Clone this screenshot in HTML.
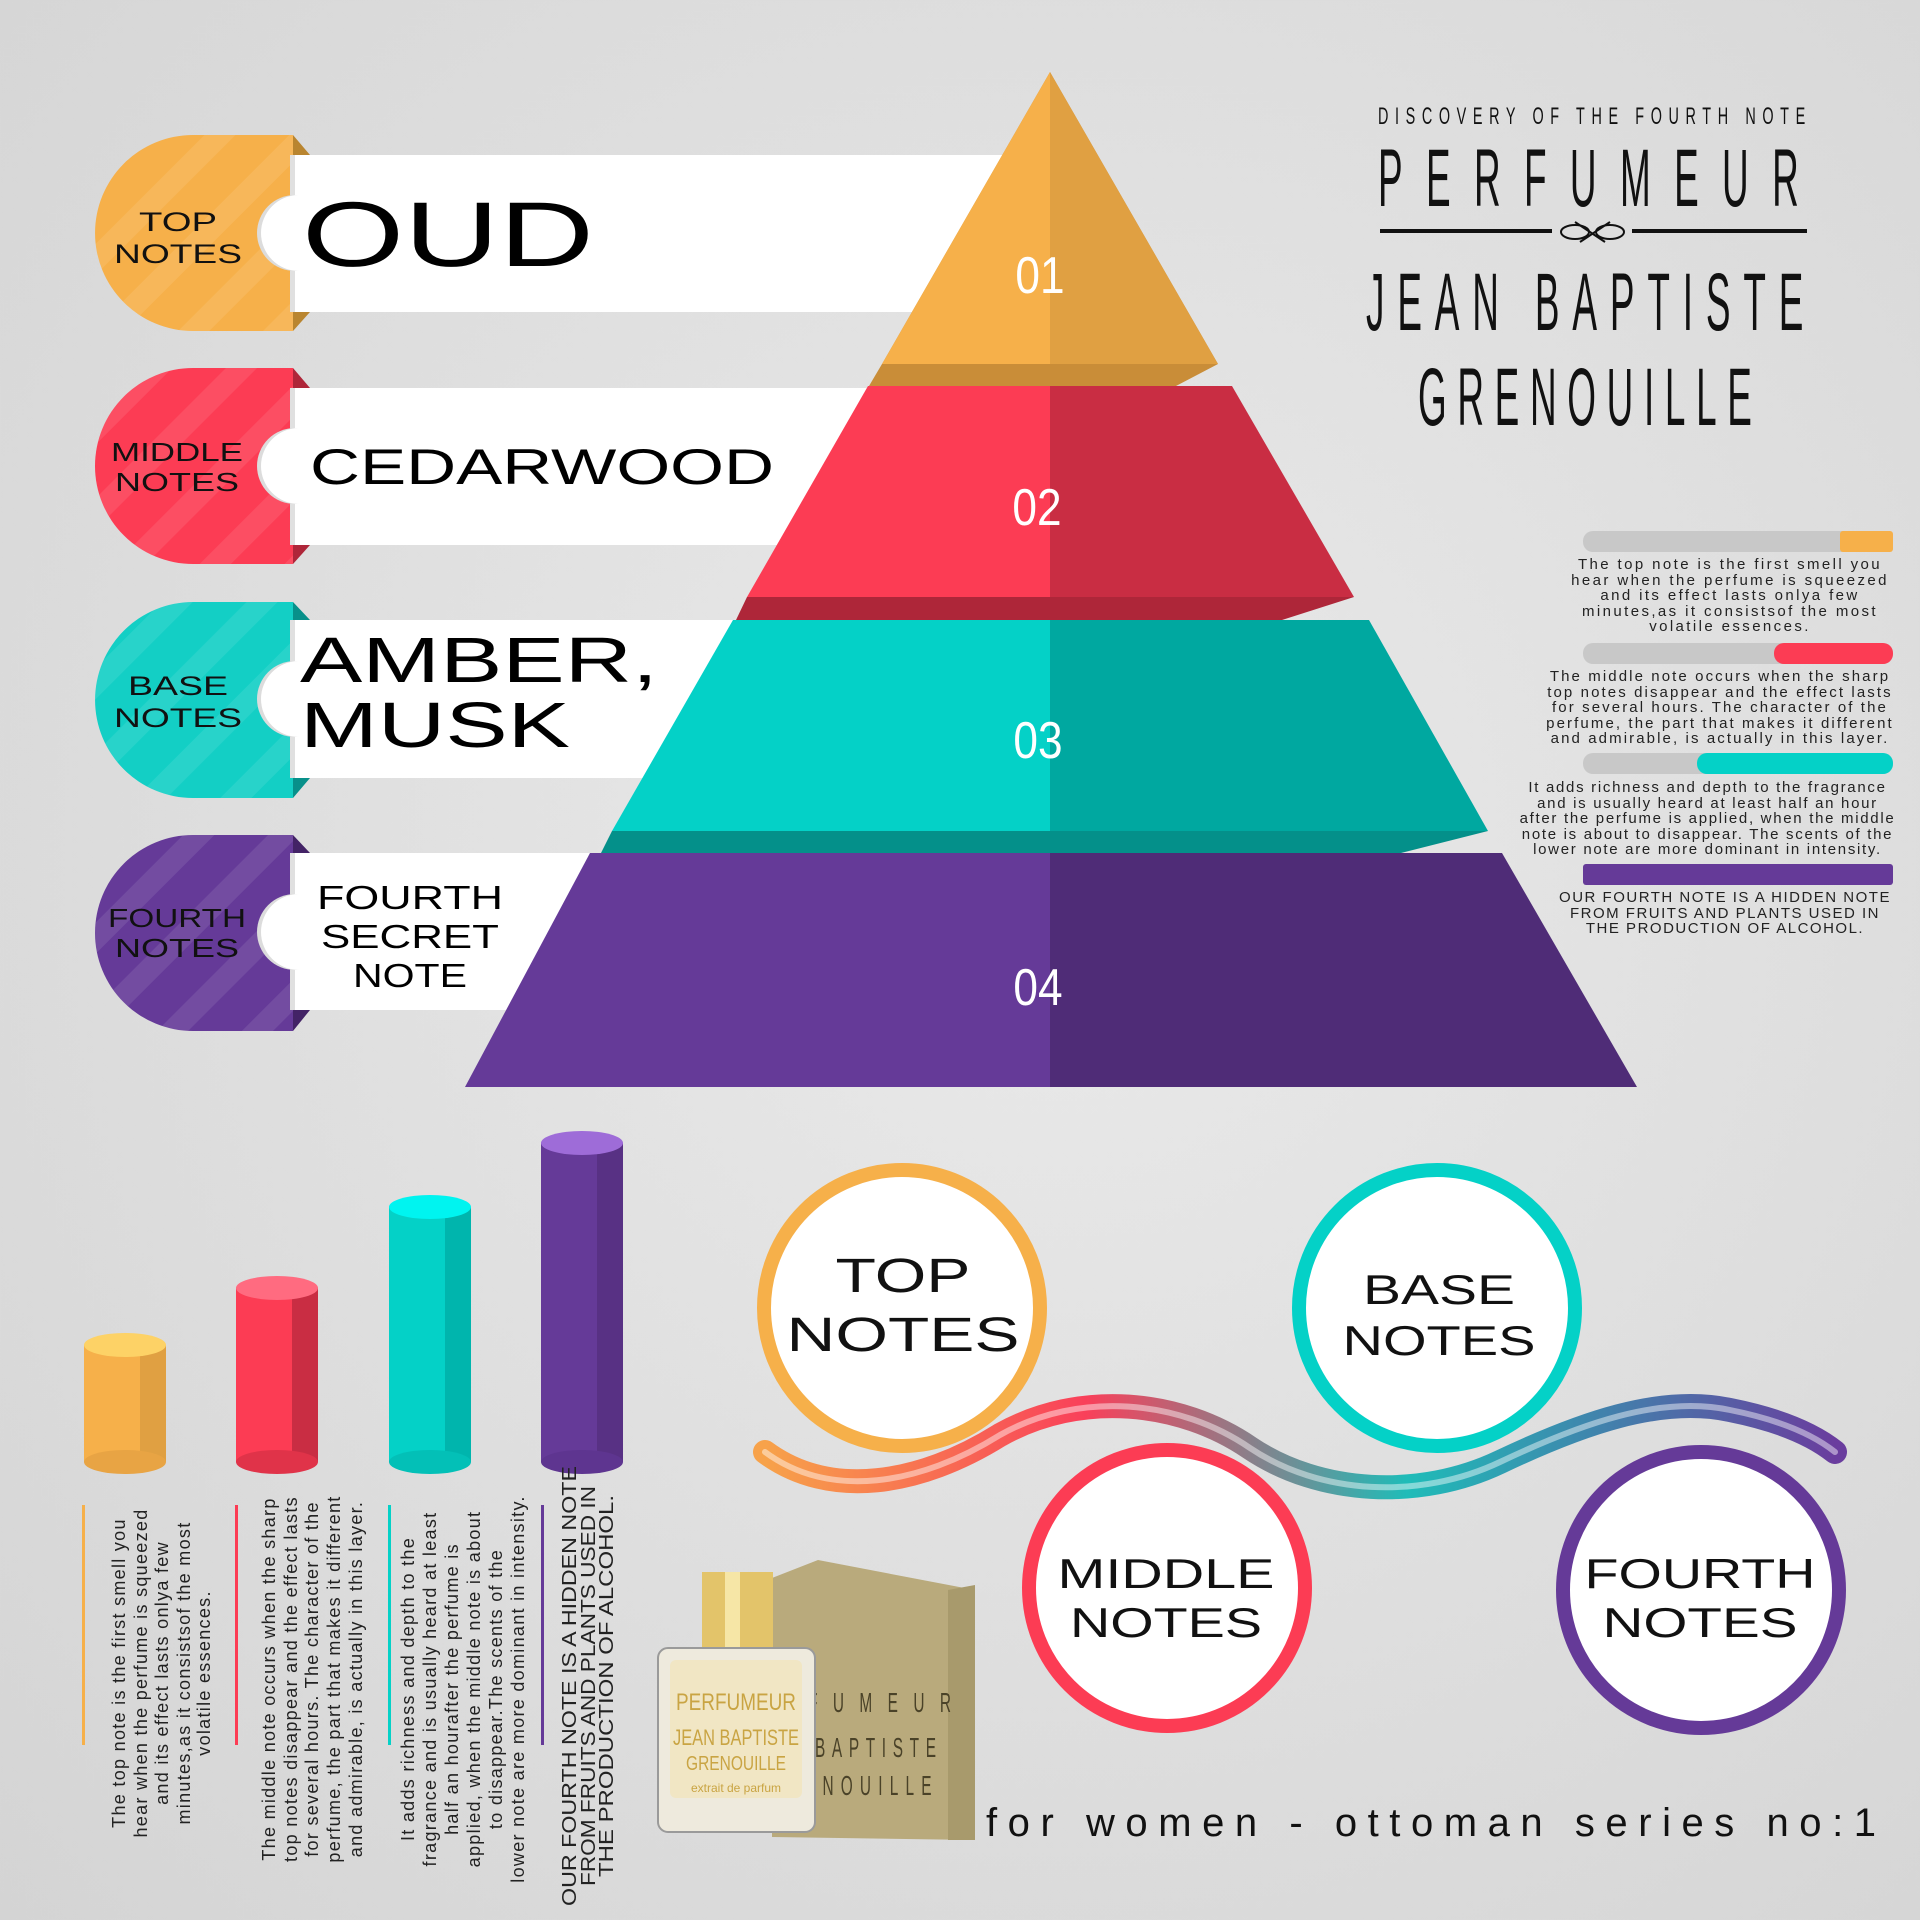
<!DOCTYPE html>
<html><head><meta charset="utf-8"><style>
html,body{margin:0;padding:0}
body{width:1920px;height:1920px;position:relative;overflow:hidden;background:radial-gradient(ellipse at 55% 45%,#eaeaea 0%,#dedede 55%,#d4d4d4 100%);font-family:"Liberation Sans",sans-serif}
.a{position:absolute}
.desc{position:absolute;text-align:center;color:#222;font-size:15px;line-height:15.5px;letter-spacing:2.4px;white-space:nowrap}
</style></head><body>
<svg class="a" style="left:0;top:0" width="1920" height="1920" viewBox="0 0 1920 1920">
<defs>
<linearGradient id="wg" x1="765" y1="0" x2="1835" y2="0" gradientUnits="userSpaceOnUse">
<stop offset="0" stop-color="#f7a24a"/><stop offset="0.3" stop-color="#f9405a"/><stop offset="0.6" stop-color="#1fbcb8"/><stop offset="1" stop-color="#6a3d9e"/></linearGradient>
<pattern id="st" width="60" height="60" patternUnits="userSpaceOnUse" patternTransform="rotate(-45)"><rect width="60" height="22" fill="#fff" fill-opacity="0.09"/></pattern>
</defs>
<rect x="290" y="155" width="760" height="157" fill="#fff"/>
<rect x="290" y="388" width="700" height="157" fill="#fff"/>
<rect x="290" y="620" width="600" height="158" fill="#fff"/>
<rect x="290" y="853" width="500" height="157" fill="#fff"/>
<g>
<path d="M293,135 L193,135 A98,98 0 0 0 193,331 L293,331Z" fill="#f6b04a"/><path d="M293,135 L193,135 A98,98 0 0 0 193,331 L293,331Z" fill="url(#st)"/>
<polygon points="293,135 310,155 293,155" fill="#b98530"/><polygon points="293,331 310,312 293,312" fill="#b98530"/>
<path d="M293,368 L193,368 A98,98 0 0 0 193,564 L293,564Z" fill="#fc3c54"/><path d="M293,368 L193,368 A98,98 0 0 0 193,564 L293,564Z" fill="url(#st)"/>
<polygon points="293,368 310,388 293,388" fill="#ae2639"/><polygon points="293,564 310,545 293,545" fill="#ae2639"/>
<path d="M293,602 L193,602 A98,98 0 0 0 193,798 L293,798Z" fill="#13cfc5"/><path d="M293,602 L193,602 A98,98 0 0 0 193,798 L293,798Z" fill="url(#st)"/>
<polygon points="293,602 310,620 293,620" fill="#08908a"/><polygon points="293,798 310,778 293,778" fill="#08908a"/>
<path d="M293,835 L193,835 A98,98 0 0 0 193,1031 L293,1031Z" fill="#653a98"/><path d="M293,835 L193,835 A98,98 0 0 0 193,1031 L293,1031Z" fill="url(#st)"/>
<polygon points="293,835 310,853 293,853" fill="#432366"/><polygon points="293,1031 310,1010 293,1010" fill="#432366"/>
<rect x="290" y="155" width="5" height="157" fill="#e0e0e0"/><rect x="290" y="388" width="5" height="157" fill="#e0e0e0"/><rect x="290" y="620" width="5" height="158" fill="#e0e0e0"/><rect x="290" y="853" width="5" height="157" fill="#e0e0e0"/>
<circle cx="295" cy="233" r="38" fill="#dcdcdc"/><circle cx="299" cy="233" r="38" fill="#fff"/><rect x="299" y="195" width="20" height="76" fill="#fff"/>
<circle cx="295" cy="466" r="38" fill="#dcdcdc"/><circle cx="299" cy="466" r="38" fill="#fff"/><rect x="299" y="428" width="20" height="76" fill="#fff"/>
<circle cx="295" cy="699" r="38" fill="#dcdcdc"/><circle cx="299" cy="699" r="38" fill="#fff"/><rect x="299" y="661" width="20" height="76" fill="#fff"/>
<circle cx="295" cy="932" r="38" fill="#dcdcdc"/><circle cx="299" cy="932" r="38" fill="#fff"/><rect x="299" y="894" width="20" height="76" fill="#fff"/>
</g>
<g font-family="Liberation Sans,sans-serif" fill="#111" text-anchor="middle">
<text x="178" y="231" font-size="27" textLength="78" lengthAdjust="spacingAndGlyphs">TOP</text>
<text x="178" y="263" font-size="27" textLength="128" lengthAdjust="spacingAndGlyphs">NOTES</text>
<text x="177" y="461" font-size="26" textLength="132" lengthAdjust="spacingAndGlyphs">MIDDLE</text>
<text x="177" y="491" font-size="26" textLength="124" lengthAdjust="spacingAndGlyphs">NOTES</text>
<text x="178" y="695" font-size="27" textLength="100" lengthAdjust="spacingAndGlyphs">BASE</text>
<text x="178" y="727" font-size="27" textLength="128" lengthAdjust="spacingAndGlyphs">NOTES</text>
<text x="177" y="927" font-size="26" textLength="138" lengthAdjust="spacingAndGlyphs">FOURTH</text>
<text x="177" y="957" font-size="26" textLength="124" lengthAdjust="spacingAndGlyphs">NOTES</text>
</g>
<g font-family="Liberation Sans,sans-serif" fill="#000">
<text x="302" y="266" font-size="92" textLength="292" lengthAdjust="spacingAndGlyphs">OUD</text>
<text x="310" y="484" font-size="50" textLength="464" lengthAdjust="spacingAndGlyphs">CEDARWOOD</text>
<text x="300" y="682" font-size="64" textLength="358" lengthAdjust="spacingAndGlyphs">AMBER,</text>
<text x="300" y="747" font-size="64" textLength="270" lengthAdjust="spacingAndGlyphs">MUSK</text>
<g text-anchor="middle" font-size="33"><text x="410" y="909" textLength="186" lengthAdjust="spacingAndGlyphs">FOURTH</text><text x="410" y="948" textLength="178" lengthAdjust="spacingAndGlyphs">SECRET</text><text x="410" y="987" textLength="114" lengthAdjust="spacingAndGlyphs">NOTE</text></g>
</g>
<polygon points="1050,72 882,364 869,386 1176,386 1218,364" fill="#c98d38"/>
<polygon points="1050,72 882,364 1050,364" fill="#f6b04a"/><polygon points="1050,72 1218,364 1050,364" fill="#e0a042"/>
<polygon points="747,597 736,620 1282,620 1354,597" fill="#ae2639"/>
<polygon points="868,386 1050,386 1050,597 747,597" fill="#fc3c54"/><polygon points="1050,386 1232,386 1354,597 1050,597" fill="#c92d43"/>
<polygon points="612,831 601,853 1401,853 1488,831" fill="#04908a"/>
<polygon points="733,620 1050,620 1050,831 612,831" fill="#04d1c7"/><polygon points="1050,620 1369,620 1488,831 1050,831" fill="#00a8a0"/>
<polygon points="590,853 1050,853 1050,1087 465,1087" fill="#653a98"/><polygon points="1050,853 1502,853 1637,1087 1050,1087" fill="#4f2c77"/>
<g font-family="Liberation Sans,sans-serif" font-size="52" fill="#fff" text-anchor="middle">
<text x="1040" y="293" transform="translate(1040,0) scale(0.85,1) translate(-1040,0)">01</text><text x="1037" y="525" transform="translate(1037,0) scale(0.85,1) translate(-1037,0)">02</text><text x="1038" y="758" transform="translate(1038,0) scale(0.85,1) translate(-1038,0)">03</text><text x="1038" y="1005" transform="translate(1038,0) scale(0.85,1) translate(-1038,0)">04</text></g>
<g font-family="Liberation Sans,sans-serif" fill="#111">
<text transform="translate(1378,124) scale(0.6,1)" font-size="24" textLength="712" lengthAdjust="spacing">DISCOVERY OF THE FOURTH NOTE</text>
<text transform="translate(1378,206) scale(0.45,1)" font-size="82" textLength="935" lengthAdjust="spacing">PERFUMEUR</text>
<text transform="translate(1366,330) scale(0.45,1)" font-size="82" textLength="972" lengthAdjust="spacing">JEAN BAPTISTE</text>
<text transform="translate(1418,425) scale(0.45,1)" font-size="82" textLength="742" lengthAdjust="spacing">GRENOUILLE</text>
</g>
<rect x="1380" y="229" width="172" height="4" fill="#111"/><rect x="1632" y="229" width="175" height="4" fill="#111"/>
<g fill="none" stroke="#111" stroke-width="2"><ellipse cx="1575" cy="232" rx="14" ry="7"/><ellipse cx="1610" cy="232" rx="14" ry="7"/><path d="M1575,222 L1605,242 M1580,242 L1610,222"/></g>
<rect x="1583" y="531" width="310" height="21" rx="10" fill="#c8c8c8"/><rect x="1840" y="531" width="53" height="21" rx="3" fill="#f6b04a"/>
<rect x="1583" y="643" width="310" height="21" rx="10" fill="#c8c8c8"/><rect x="1774" y="643" width="119" height="21" rx="10" fill="#fc3c54"/>
<rect x="1583" y="753" width="310" height="21" rx="10" fill="#c8c8c8"/><rect x="1697" y="753" width="196" height="21" rx="10" fill="#04d1c7"/>
<rect x="1583" y="864" width="310" height="21" rx="3" fill="#653a98"/>
<g>
<rect x="84" y="1345" width="82" height="117" fill="#f6b04a"/><rect x="140" y="1345" width="26" height="117" fill="#e0a042"/><ellipse cx="125" cy="1462" rx="41" ry="12" fill="#e8a444"/><ellipse cx="125" cy="1345" rx="41" ry="12" fill="#fdd266"/>
<rect x="236" y="1288" width="82" height="174" fill="#fc3c54"/><rect x="292" y="1288" width="26" height="174" fill="#c92d43"/><ellipse cx="277" cy="1462" rx="41" ry="12" fill="#e03349"/><ellipse cx="277" cy="1288" rx="41" ry="12" fill="#ff6b80"/>
<rect x="389" y="1207" width="82" height="255" fill="#04d1c7"/><rect x="445" y="1207" width="26" height="255" fill="#00b5ad"/><ellipse cx="430" cy="1462" rx="41" ry="12" fill="#03c0b7"/><ellipse cx="430" cy="1207" rx="41" ry="12" fill="#00f4f0"/>
<rect x="541" y="1143" width="82" height="319" fill="#653a98"/><rect x="597" y="1143" width="26" height="319" fill="#583184"/><ellipse cx="582" cy="1462" rx="41" ry="12" fill="#5e3590"/><ellipse cx="582" cy="1143" rx="41" ry="12" fill="#9e6cd8"/>
</g>
<rect x="82" y="1505" width="3" height="240" fill="#f6b04a"/><rect x="235" y="1505" width="3" height="240" fill="#fc3c54"/><rect x="388" y="1505" width="3" height="240" fill="#04d1c7"/><rect x="541" y="1505" width="3" height="240" fill="#653a98"/>
<g font-family="Liberation Sans,sans-serif" fill="#222" text-anchor="middle" font-size="18" letter-spacing="1.3">
<text transform="translate(125,1673) rotate(-90)">The top note is the first smell you</text>
<text transform="translate(147,1673) rotate(-90)">hear when the perfume is squeezed</text>
<text transform="translate(168,1673) rotate(-90)">and its effect lasts onlya few</text>
<text transform="translate(190,1673) rotate(-90)">minutes,as it consistsof the most</text>
<text transform="translate(210,1673) rotate(-90)">volatile essences.</text>
<text transform="translate(275,1679) rotate(-90)">The middle note occurs when the sharp</text>
<text transform="translate(297,1679) rotate(-90)">top notes disappear and the effect lasts</text>
<text transform="translate(318,1679) rotate(-90)">for several hours. The character of the</text>
<text transform="translate(340,1679) rotate(-90)">perfume, the part that makes it different</text>
<text transform="translate(362,1679) rotate(-90)">and admirable, is actually in this layer.</text>
<text transform="translate(414,1689) rotate(-90)">It adds richness and depth to the</text>
<text transform="translate(436,1689) rotate(-90)">fragrance and is usually heard at least</text>
<text transform="translate(458,1689) rotate(-90)">half an hourafter the perfume is</text>
<text transform="translate(480,1689) rotate(-90)">applied, when the middle note is about</text>
<text transform="translate(502,1689) rotate(-90)">to disappear.The scents of the</text>
<text transform="translate(524,1689) rotate(-90)">lower note are more dominant in intensity.</text>
</g>
<g font-family="Liberation Sans,sans-serif" fill="#222" text-anchor="middle" font-size="20.5">
<text transform="translate(576,1686) rotate(-90)" textLength="440" lengthAdjust="spacingAndGlyphs">OUR FOURTH NOTE IS A HIDDEN NOTE</text>
<text transform="translate(595,1686) rotate(-90)" textLength="400" lengthAdjust="spacingAndGlyphs">FROM FRUITS AND PLANTS USED IN</text>
<text transform="translate(613,1686) rotate(-90)" textLength="382" lengthAdjust="spacingAndGlyphs">THE PRODUCTION OF ALCOHOL.</text>
</g>
<path d="M765,1452 C830,1500 920,1485 1000,1435 C1080,1390 1180,1400 1250,1448 C1320,1495 1420,1500 1500,1462 C1580,1424 1660,1395 1730,1410 C1790,1422 1820,1440 1835,1452" fill="none" stroke="url(#wg)" stroke-width="24" stroke-linecap="round"/>
<path d="M765,1452 C830,1500 920,1485 1000,1435 C1080,1390 1180,1400 1250,1448 C1320,1495 1420,1500 1500,1462 C1580,1424 1660,1395 1730,1410 C1790,1422 1820,1440 1835,1452" fill="none" stroke="#fff" stroke-opacity="0.45" stroke-width="6" stroke-linecap="round"/>
<circle cx="902" cy="1308" r="138" fill="#fff" stroke="#f6b04a" stroke-width="14"/>
<circle cx="1437" cy="1308" r="138" fill="#fff" stroke="#04d1c7" stroke-width="14"/>
<circle cx="1167" cy="1588" r="138" fill="#fff" stroke="#fc3c54" stroke-width="14"/>
<circle cx="1701" cy="1590" r="138" fill="#fff" stroke="#653a98" stroke-width="14"/>
<g font-family="Liberation Sans,sans-serif" fill="#111" text-anchor="middle">
<text x="903" y="1292" font-size="48" textLength="135" lengthAdjust="spacingAndGlyphs">TOP</text><text x="903" y="1351" font-size="48" textLength="233" lengthAdjust="spacingAndGlyphs">NOTES</text>
<text x="1439" y="1304" font-size="42" textLength="152" lengthAdjust="spacingAndGlyphs">BASE</text><text x="1439" y="1355" font-size="42" textLength="193" lengthAdjust="spacingAndGlyphs">NOTES</text>
<text x="1166" y="1588" font-size="42" textLength="217" lengthAdjust="spacingAndGlyphs">MIDDLE</text><text x="1166" y="1637" font-size="42" textLength="192" lengthAdjust="spacingAndGlyphs">NOTES</text>
<text x="1700" y="1588" font-size="42" textLength="231" lengthAdjust="spacingAndGlyphs">FOURTH</text><text x="1700" y="1637" font-size="42" textLength="195" lengthAdjust="spacingAndGlyphs">NOTES</text>
</g>
<polygon points="772,1578 818,1560 975,1590 975,1840 772,1837" fill="#b9aa7c"/>
<polygon points="948,1590 975,1585 975,1840 948,1840" fill="#a89a6c"/>
<g font-family="Liberation Sans,sans-serif" fill="#4a4228" font-size="28"><text transform="translate(808,1712) scale(0.55,1)" textLength="260" lengthAdjust="spacing">FUMEUR</text><text transform="translate(815,1757) scale(0.55,1)" textLength="220" lengthAdjust="spacing">BAPTISTE</text><text transform="translate(805,1795) scale(0.55,1)" textLength="230" lengthAdjust="spacing">ENOUILLE</text></g>
<rect x="702" y="1572" width="71" height="78" fill="#e3c46a"/><rect x="725" y="1572" width="15" height="78" fill="#f6e6a6"/>
<rect x="658" y="1648" width="157" height="184" rx="10" fill="#eeeadd" stroke="#9a9a9a" stroke-width="2"/>
<rect x="670" y="1660" width="132" height="138" rx="6" fill="#f1e6c4"/>
<g font-family="Liberation Sans,sans-serif" fill="#c9a443" text-anchor="middle"><text x="736" y="1710" font-size="24" textLength="120" lengthAdjust="spacingAndGlyphs">PERFUMEUR</text><text x="736" y="1745" font-size="22" textLength="126" lengthAdjust="spacingAndGlyphs">JEAN BAPTISTE</text><text x="736" y="1770" font-size="20" textLength="100" lengthAdjust="spacingAndGlyphs">GRENOUILLE</text><text x="736" y="1792" font-size="12">extrait de parfum</text></g>
<text x="986" y="1836" font-family="Liberation Sans,sans-serif" font-size="40" fill="#111" textLength="890" lengthAdjust="spacing">for women - ottoman series no:1</text>
</svg>
<div class="desc" style="left:1530px;width:400px;top:557px">The top note is the first smell you<br>hear when the perfume is squeezed<br>and its effect lasts onlya few<br>minutes,as it consistsof the most<br>volatile essences.</div>
<div class="desc" style="left:1510px;width:420px;top:669px;letter-spacing:2.1px">The middle note occurs when the sharp<br>top notes disappear and the effect lasts<br>for several hours. The character of the<br>perfume, the part that makes it different<br>and admirable, is actually in this layer.</div>
<div class="desc" style="left:1495px;width:425px;top:780px;letter-spacing:1.7px">It adds richness and depth to the fragrance<br>and is usually heard at least half an hour<br>after the perfume is applied, when the middle<br>note is about to disappear. The scents of the<br>lower note are more dominant in intensity.</div>
<div class="desc" style="left:1530px;width:390px;top:890px;letter-spacing:1.5px">OUR FOURTH NOTE IS A HIDDEN NOTE<br>FROM FRUITS AND PLANTS USED IN<br>THE PRODUCTION OF ALCOHOL.</div>
</body></html>
